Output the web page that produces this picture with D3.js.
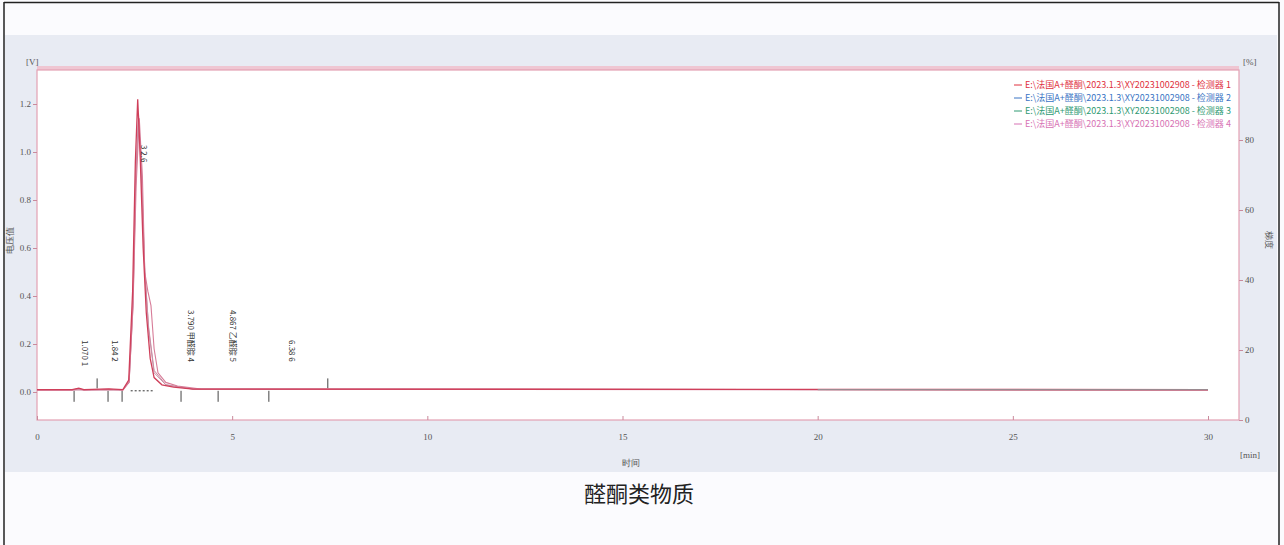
<!DOCTYPE html>
<html>
<head>
<meta charset="utf-8">
<script src="https://cdn.jsdelivr.net/npm/d3@7"></script>
<style>
  body { margin: 0; background: #fff; }
  svg { display: block; }
</style>
</head>
<body>
<script>
// chromatogram traces, time in min, signal in V
var redTime = [0, 0.9, 1.07, 1.2, 1.84, 2.2, 2.35, 2.45, 2.52, 2.58, 2.64, 2.72, 2.8, 2.9, 3.0, 3.2, 3.5, 4.0, 30];
var redVal  = [0.01, 0.01, 0.016, 0.01, 0.013, 0.01, 0.05, 0.42, 0.96, 1.22, 1.0, 0.6, 0.33, 0.14, 0.06, 0.03, 0.02, 0.012, 0.01];
var pinkTime = [0, 0.9, 1.07, 1.2, 1.84, 2.2, 2.36, 2.46, 2.54, 2.62, 2.7, 2.76, 2.84, 2.92, 3.0, 3.1, 3.3, 3.6, 4.2, 30];
var pinkVal  = [0.008, 0.008, 0.014, 0.008, 0.011, 0.008, 0.04, 0.36, 0.86, 1.14, 0.9, 0.5, 0.42, 0.36, 0.18, 0.08, 0.04, 0.025, 0.012, 0.008];
var blueTime = [0, 2.2, 2.36, 2.46, 2.53, 2.6, 2.67, 2.76, 2.86, 3.0, 3.3, 4.0, 30];
var blueVal  = [0.009, 0.009, 0.045, 0.38, 0.9, 1.16, 0.94, 0.52, 0.26, 0.08, 0.03, 0.012, 0.009];
var greenTime = [0, 2.2, 2.36, 2.46, 2.53, 2.6, 2.67, 2.76, 2.86, 3.0, 3.3, 4.0, 30];
var greenVal  = [0.009, 0.009, 0.04, 0.36, 0.88, 1.12, 0.92, 0.5, 0.27, 0.09, 0.03, 0.012, 0.009];

var xTicks = [0, 5, 10, 15, 20, 25, 30];
var yLeftTicks = [0, 0.2, 0.4, 0.6, 0.8, 1.0, 1.2];
var yRightTicks = [0, 20, 40, 60, 80];

var peakTimes = [1.07, 1.84, 2.6, 3.79, 4.867, 6.38];
var peakTexts = ["1.070   1", "1.84   2", "3  2.6", "3.790 甲醛腙   4", "4.867 乙醛腙   5", "6.38   6"];
var peakTop = [340, 340, 145, 310, 310, 340];

var markBelow = [0.95, 1.82, 2.18, 3.69, 4.64, 5.94];
var markAbove = [1.54, 7.45];

var legendNames = [
  "E:\\法国A+醛酮\\2023.1.3\\XY20231002908 - 检测器 1",
  "E:\\法国A+醛酮\\2023.1.3\\XY20231002908 - 检测器 2",
  "E:\\法国A+醛酮\\2023.1.3\\XY20231002908 - 检测器 3",
  "E:\\法国A+醛酮\\2023.1.3\\XY20231002908 - 检测器 4"
];
var legendColors = ["#e0303e", "#3a74c4", "#2f9a72", "#d772b4"];

var W = 1284, H = 545;
var svg = d3.select("body").append("svg").attr("width", W).attr("height", H);

// page frame
svg.append("rect").attr("x", 0).attr("y", 0).attr("width", W).attr("height", H).attr("fill", "#fbfbfe");
svg.append("rect").attr("x", 5).attr("y", 35).attr("width", 1272).attr("height", 437).attr("fill", "#e8ebf3");
svg.append("line").attr("x1", 4).attr("x2", 1279).attr("y1", 2.5).attr("y2", 2.5).attr("stroke", "#222").attr("stroke-width", 1.5);
svg.append("line").attr("x1", 4).attr("x2", 4).attr("y1", 2).attr("y2", H).attr("stroke", "#222").attr("stroke-width", 1.5);
svg.append("line").attr("x1", 1279).attr("x2", 1279).attr("y1", 2).attr("y2", H).attr("stroke", "#222").attr("stroke-width", 1.5);

var pLeft = 37, pRight = 1239, pTop = 70, pBottom = 420;
var x = d3.scaleLinear().domain([0, 30]).range([37, 1208]);
var yL = d3.scaleLinear().domain([0, 1.2]).range([392, 104]);
var yR = d3.scaleLinear().domain([0, 100]).range([420, 70]);

// plot area
svg.append("rect").attr("x", pLeft).attr("y", pTop - 4).attr("width", pRight - pLeft).attr("height", 4).attr("fill", "#efc6d2");
svg.append("rect").attr("x", pLeft).attr("y", pTop).attr("width", pRight - pLeft).attr("height", pBottom - pTop)
  .attr("fill", "#fff").attr("stroke", "#e3a1b3").attr("stroke-width", 1.2);

var axisFont = "Liberation Serif, serif";

// left axis
var gL = svg.append("g").attr("transform", "translate(" + pLeft + ",0)")
  .call(d3.axisLeft(yL).tickValues(yLeftTicks).tickFormat(d3.format(".1f")).tickSize(4).tickPadding(2));
gL.select(".domain").remove();
gL.selectAll("line").attr("stroke", "#c98a9c");
gL.selectAll("text").attr("fill", "#555").style("font-size", "9px").style("font-family", axisFont);

// right axis
var gR = svg.append("g").attr("transform", "translate(" + pRight + ",0)")
  .call(d3.axisRight(yR).tickValues(yRightTicks).tickSize(4).tickPadding(2));
gR.select(".domain").remove();
gR.selectAll("line").attr("stroke", "#c98a9c");
gR.selectAll("text").attr("fill", "#555").style("font-size", "9px").style("font-family", axisFont);

// bottom axis
var gB = svg.append("g").attr("transform", "translate(0," + pBottom + ")")
  .call(d3.axisBottom(x).tickValues(xTicks).tickSize(-4).tickPadding(14));
gB.select(".domain").remove();
gB.selectAll("line").attr("stroke", "#c98a9c");
gB.selectAll("text").attr("fill", "#555").style("font-size", "9px").style("font-family", axisFont);

// unit labels and axis titles
function label(tx, ty, s, opts) {
  var t = svg.append("text").attr("x", tx).attr("y", ty).text(s)
    .attr("fill", "#555").style("font-size", "9px").style("font-family", axisFont);
  if (opts && opts.anchor) t.attr("text-anchor", opts.anchor);
  if (opts && opts.rot) t.attr("transform", "rotate(" + opts.rot + "," + tx + "," + ty + ")");
  return t;
}
label(26, 65, "[V]");
label(1243, 65, "[%]");
label(1240, 458, "[min]");
label(631, 466, "时间", {anchor: "middle"});
label(13, 240, "电压值", {anchor: "middle", rot: -90});
label(1266, 240, "梯度", {anchor: "middle", rot: 90});

// baseline integration marks
svg.selectAll(".mb").data(markBelow).enter().append("line")
  .attr("x1", function(d) { return x(d); }).attr("x2", function(d) { return x(d); })
  .attr("y1", yL(0.005)).attr("y2", yL(0.005) + 11).attr("stroke", "#444").attr("stroke-width", 1);
svg.selectAll(".ma").data(markAbove).enter().append("line")
  .attr("x1", function(d) { return x(d); }).attr("x2", function(d) { return x(d); })
  .attr("y1", yL(0.015) - 10).attr("y2", yL(0.015)).attr("stroke", "#444").attr("stroke-width", 1);
svg.append("line").attr("x1", x(2.4)).attr("x2", x(3.0)).attr("y1", yL(0.005)).attr("y2", yL(0.005))
  .attr("stroke", "#333").attr("stroke-dasharray", "2,2");

// traces
var line = d3.line().x(function(d) { return x(d[0]); }).y(function(d) { return yL(d[1]); });
function trace(ts, vs, color, w) {
  svg.append("path").datum(d3.zip(ts, vs)).attr("d", line)
    .attr("fill", "none").attr("stroke", color).attr("stroke-width", w);
}
trace(greenTime, greenVal, "#cc8aa0", 1);
trace(blueTime, blueVal, "#c790a6", 1);
trace(pinkTime, pinkVal, "#d77c98", 1.1);
trace(redTime, redVal, "#cf3f5a", 1.3);
// grey end of baseline
svg.append("line").attr("x1", x(20)).attr("x2", x(30)).attr("y1", yL(0.01)).attr("y2", yL(0.01))
  .attr("stroke", "#9a8a90").attr("stroke-width", 1.2);

// peak labels
peakTimes.forEach(function(t, i) {
  var px = x(t) + 3, py = peakTop[i];
  svg.append("text").attr("x", px).attr("y", py).text(peakTexts[i])
    .attr("transform", "rotate(90," + px + "," + py + ")")
    .attr("fill", "#333").style("font-size", "8px").style("font-family", "Noto Sans CJK SC, sans-serif");
});

// legend
legendNames.forEach(function(n, i) {
  var ly = 88 + i * 13;
  svg.append("line").attr("x1", 1014).attr("x2", 1022).attr("y1", ly - 3).attr("y2", ly - 3)
    .attr("stroke", legendColors[i]).attr("stroke-width", 1);
  svg.append("text").attr("x", 1025).attr("y", ly).text(n)
    .attr("fill", legendColors[i]).style("font-size", "9px").style("font-family", "Noto Sans CJK SC, sans-serif");
});

// caption
svg.append("text").attr("x", 639).attr("y", 502).attr("text-anchor", "middle").text("醛酮类物质")
  .attr("fill", "#222").style("font-size", "22px").style("font-family", "Noto Sans CJK SC, sans-serif");
</script>
</body>
</html>
